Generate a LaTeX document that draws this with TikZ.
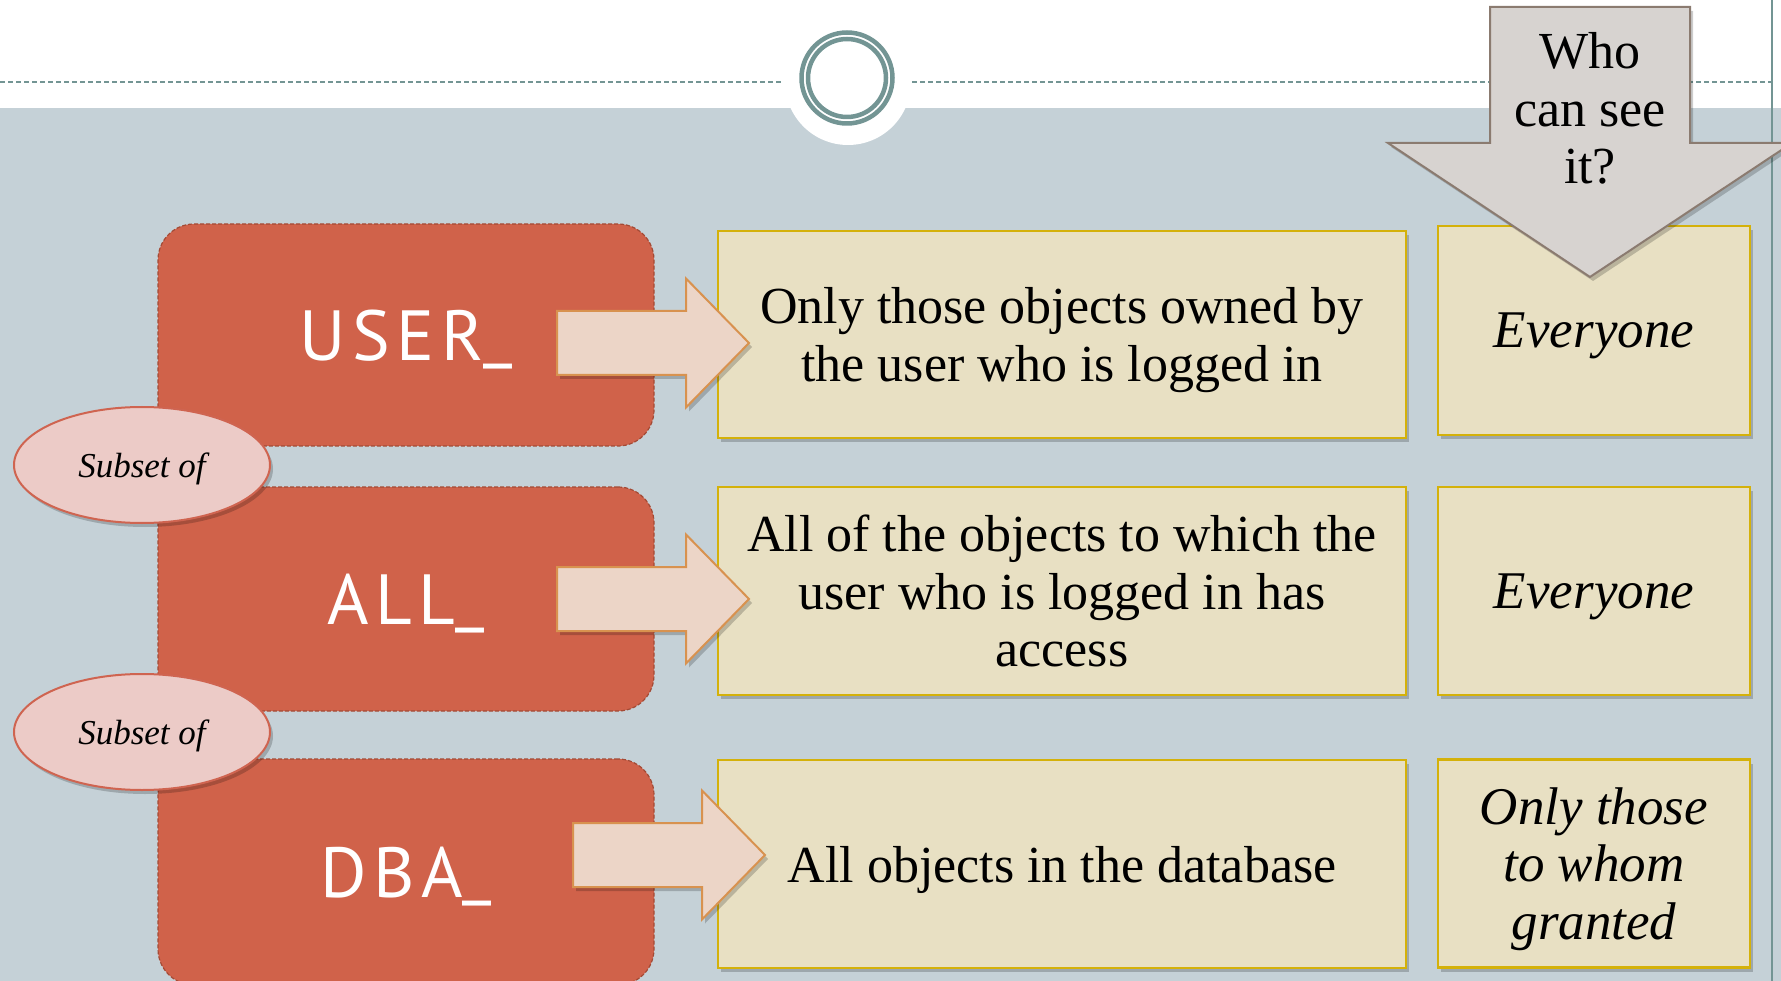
\documentclass[tikz,border=0pt]{standalone}
\usepackage{fontspec}
\setmainfont{Liberation Serif}
\newfontfamily\tagsans[LetterSpace=9]{PT Sans}
\usetikzlibrary{shadows,shapes.geometric}

\definecolor{slate}{HTML}{C5D1D7}
\definecolor{ringteal}{HTML}{739594}
\definecolor{tagred}{HTML}{D0624A}
\definecolor{tagedge}{HTML}{A34A35}
\definecolor{paper}{HTML}{E8E0C3}
\definecolor{gold}{HTML}{D4B10A}
\definecolor{blush}{HTML}{ECD5C7}
\definecolor{blushedge}{HTML}{D8924F}
\definecolor{rosefill}{HTML}{ECCBC7}
\definecolor{roseedge}{HTML}{CF6450}
\definecolor{stone}{HTML}{D7D3D0}
\definecolor{stoneedge}{HTML}{8B7B70}

\tikzset{
  softshadow/.style={drop shadow={shadow xshift=3pt, shadow yshift=-4pt, fill=black, opacity=0.2}},
  tagbox/.style={rectangle, rounded corners=36pt, minimum width=496pt, minimum height=222pt,
    fill=tagred, draw=tagedge, line width=1.2pt, dash pattern=on 4pt off 2pt,
    text=white, font=\tagsans\fontsize{71}{80}\selectfont, text depth=0pt, inner sep=0pt},
  subset/.style={ellipse, minimum width=256pt, minimum height=116pt, inner sep=0pt,
    fill=rosefill, draw=roseedge, line width=2pt, softshadow,
    font=\itshape\fontsize{35}{40}\selectfont, text depth=0pt},
  scopebox/.style={rectangle, minimum width=688pt, minimum height=207pt, inner sep=0pt,
    fill=paper, draw=gold, line width=2.5pt, softshadow, align=center,
    font=\fontsize{52}{57.5}\selectfont, text depth=0pt},
  whobox/.style={rectangle, minimum width=312pt, minimum height=208pt, inner sep=0pt,
    fill=paper, draw=gold, line width=2.5pt, softshadow, align=center,
    font=\itshape\fontsize{53}{57.5}\selectfont, text depth=0pt},
  pinkarrow/.style={fill=blush, draw=blushedge, line width=2pt, line join=miter, softshadow},
  greyarrow/.style={fill=stone, draw=stoneedge, line width=2pt, line join=miter, softshadow},
  rule/.style={ringteal, line width=2pt, dash pattern=on 5pt off 3pt},
  ring/.style={ringteal, line width=4.5pt}
}

% underscore set on the baseline, as in the prefix labels
\newcommand\baseunder{\raisebox{6pt}{\_}}

% block arrow: shaft start x, centre y
\newcommand\rowarrow[2]{%
  \path[pinkarrow] (#1,#2) ++(0,-32) -- ++(129,0) -- ++(0,-32.5) -- ++(63,64.5)
    -- ++(-63,64.5) -- ++(0,-32.5) -- ++(-129,0) -- cycle;}

\begin{document}
\begin{tikzpicture}[x=1pt,y=-1pt]
\clip (0,0) rectangle (1781,981);
\fill[white] (0,0) rectangle (1781,981);
\fill[slate] (0,108) rectangle (1781,981);

% header rule with the ring ornament
\draw[rule] (0,82) -- (782,82);
\draw[rule] (912,82) -- (1772,82);
\draw[ringteal, line width=1.5pt] (1772,0) -- (1772,981);
\fill[white] (848,82) circle[radius=63pt];
\draw[ring] (847,78) circle[radius=45.5pt];
\draw[ring] (847,78) circle[radius=39pt];

% view prefixes
\node[tagbox] (user) at (406,335) {USER\baseunder};
\node[tagbox, minimum height=224pt] (all) at (406,599) {ALL\baseunder};
\node[tagbox, minimum height=226pt] (dba) at (406,872) {DBA\baseunder};

% what each view shows
\node[scopebox] (own) at (1062,334.5) {Only those objects owned by\\the user who is logged in};
\node[scopebox, minimum height=208pt] (acc) at (1062,591) {All of the objects to which the\\user who is logged in has\\access};
\node[scopebox, minimum height=208pt] (db) at (1062,864) {All objects in the database};

% who can query each view
\node[whobox, minimum height=209pt] (see1) at (1594,330.5) {Everyone};
\node[whobox] (see2) at (1594,591) {Everyone};
\node[whobox] (see3) at (1594,863.5) {Only those\\to whom\\granted};

% subset relations
\node[subset] (sub1) at (142,465) {Subset of};
\node[subset] (sub2) at (142,732) {Subset of};

% arrows from prefix to contents
\rowarrow{557}{343}
\rowarrow{557}{599}
\rowarrow{573}{855}

% column heading arrow
\path[greyarrow] (1490,7) -- (1690,7) -- (1690,143) -- (1792,143) -- (1590,277)
  -- (1388,143) -- (1490,143) -- cycle;
\node[align=center, font=\fontsize{52}{57.5}\selectfont, text depth=0pt, inner sep=0pt]
  (who) at (1590,108) {Who\\can see\\it?};
\end{tikzpicture}
\end{document}
